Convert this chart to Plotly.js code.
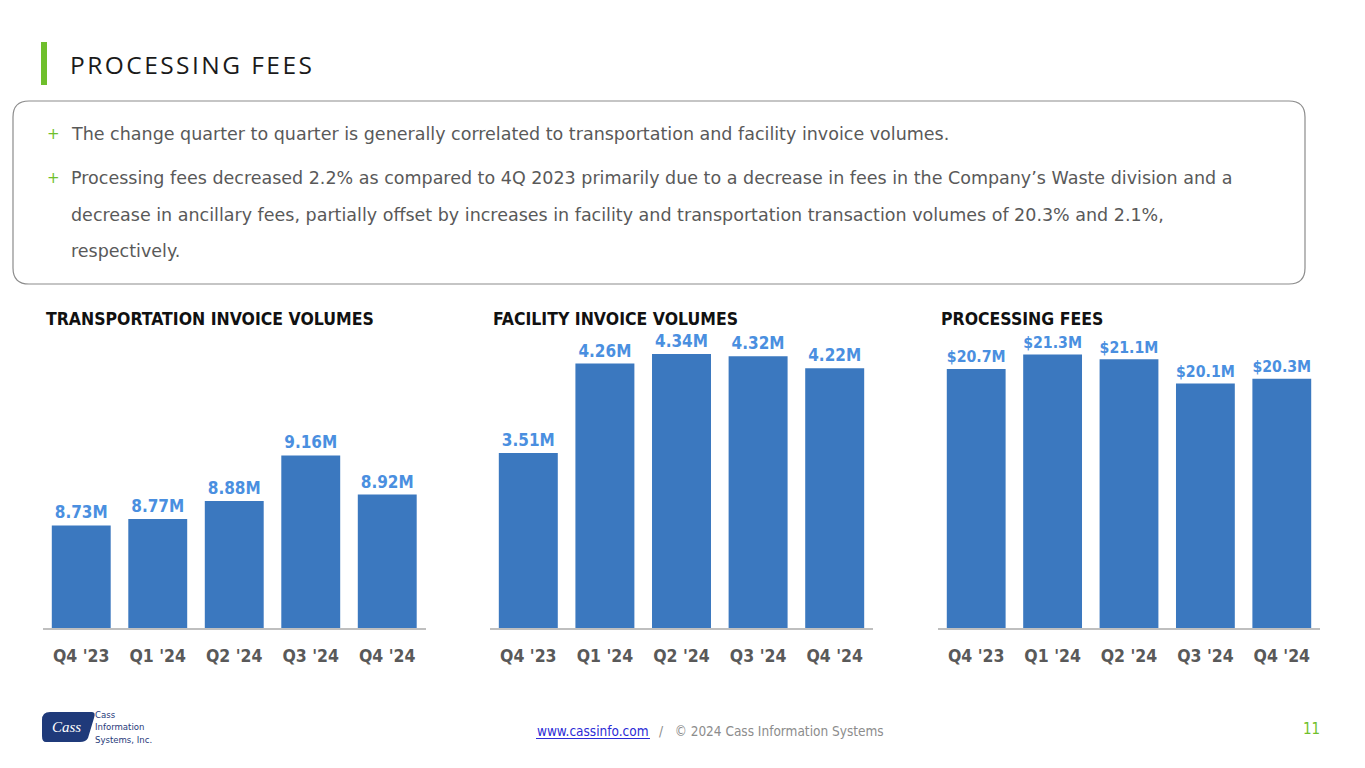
<!DOCTYPE html>
<html>
<head>
<meta charset="utf-8">
<script src="https://cdn.plot.ly/plotly-3.0.1.min.js"></script>
<style>
  html, body { margin: 0; padding: 0; background: #ffffff; }
  #chart { width: 1365px; height: 768px; }
</style>
</head>
<body>
<div id="chart"></div>
<script>
// ---- Data ----
const quarters = ["Q4 '23", "Q1 '24", "Q2 '24", "Q3 '24", "Q4 '24"];
const transportVolumes = [8.73, 8.77, 8.88, 9.16, 8.92];   // millions
const facilityVolumes = [3.51, 4.26, 4.34, 4.32, 4.22];    // millions
const processingFees = [20.7, 21.3, 21.1, 20.1, 20.3];     // $ millions
const chartTitles = ["TRANSPORTATION INVOICE VOLUMES", "FACILITY INVOICE VOLUMES", "PROCESSING FEES"];
const slideTitle = "PROCESSING FEES";
const bullets = [
  ["The change quarter to quarter is generally correlated to transportation and facility invoice volumes."],
  ["Processing fees decreased 2.2% as compared to 4Q 2023 primarily due to a decrease in fees in the Company\u2019s Waste division and a",
   "decrease in ancillary fees, partially offset by increases in facility and transportation transaction volumes of 20.3% and 2.1%,",
   "respectively."]
];

// ---- Helpers (pixel -> paper) ----
const W = 1365, H = 768;
const px = v => v / W;
const py = v => 1 - v / H;

const BAR = '#3b78bf';
const LABEL = '#4a8fe0';
const GRAY = '#595959';
const GREEN = '#6fbf2c';
const BOLD_FONT = '"DejaVu Sans Condensed", "DejaVu Sans", sans-serif';
const BODY_FONT = '"DejaVu Sans", sans-serif';
const NARROW = '"Liberation Sans Narrow", "DejaVu Sans Condensed", sans-serif';

const series = [
  {y: transportVolumes, tmpl: '%{y:.2f}M', range: [8.10, 9.869], dom: [43, 425.5]},
  {y: facilityVolumes, tmpl: '%{y:.2f}M', range: [2.043, 4.457], dom: [490, 873]},
  {y: processingFees, tmpl: '$%{y:.1f}M', range: [10, 21.9], dom: [938, 1320]}
];

const data = series.map((s, i) => ({
  type: 'bar',
  x: quarters,
  y: s.y,
  xaxis: i === 0 ? 'x' : 'x' + (i + 1),
  yaxis: i === 0 ? 'y' : 'y' + (i + 1),
  marker: {color: BAR},
  texttemplate: s.tmpl,
  textposition: 'outside',
  cliponaxis: false,
  textfont: {family: BOLD_FONT, size: 17, color: LABEL, weight: 'bold'},
  hoverinfo: 'skip',
  showlegend: false
}));

const layout = {
  width: W, height: H,
  margin: {l: 0, r: 0, t: 0, b: 0},
  paper_bgcolor: '#ffffff',
  plot_bgcolor: 'rgba(0,0,0,0)',
  bargap: 0.23,
  showlegend: false,
  shapes: [],
  annotations: []
};

series.forEach((s, i) => {
  const xk = i === 0 ? 'xaxis' : 'xaxis' + (i + 1);
  const yk = i === 0 ? 'yaxis' : 'yaxis' + (i + 1);
  const yref = i === 0 ? 'y' : 'y' + (i + 1);
  layout[xk] = {
    domain: [px(s.dom[0]), px(s.dom[1])],
    anchor: yref,
    showline: true, linecolor: '#bfbfbf', linewidth: 1.5,
    showgrid: false, zeroline: false, ticks: '',
    ticklabelstandoff: 11,
    tickfont: {family: BOLD_FONT, size: 17.5, color: GRAY, weight: 'bold'},
    fixedrange: true
  };
  layout[yk] = {
    domain: [py(628), py(340)],
    anchor: i === 0 ? 'x' : 'x' + (i + 1),
    range: s.range,
    visible: false,
    fixedrange: true
  };
  layout.annotations.push({
    xref: 'paper', yref: 'paper',
    x: px(s.dom[0] + 1), y: py(319),
    xanchor: 'left', yanchor: 'middle',
    text: '<b>' + chartTitles[i] + '</b>',
    showarrow: false,
    font: {family: BOLD_FONT, size: 17.5, color: '#111111'}
  });
});

// Slide header
layout.shapes.push({type: 'rect', xref: 'paper', yref: 'paper',
  x0: px(41), x1: px(47), y0: py(85), y1: py(42),
  fillcolor: GREEN, line: {width: 0}});
layout.annotations.push({xref: 'paper', yref: 'paper', x: px(68), y: py(64),
  xanchor: 'left', yanchor: 'middle', showarrow: false,
  text: slideTitle.split('').join('\u200A'),
  font: {family: '"Open Sans", "Liberation Sans", sans-serif', size: 24.5, color: '#1a1a1a'}});

// Rounded text box
(function () {
  const x0 = px(13), x1 = px(1305), yT = py(101), yB = py(284);
  const rx = px(16), ry = 16 / H;
  const path = `M ${x0 + rx} ${yT} L ${x1 - rx} ${yT} Q ${x1} ${yT} ${x1} ${yT - ry} ` +
    `L ${x1} ${yB + ry} Q ${x1} ${yB} ${x1 - rx} ${yB} L ${x0 + rx} ${yB} ` +
    `Q ${x0} ${yB} ${x0} ${yB + ry} L ${x0} ${yT - ry} Q ${x0} ${yT} ${x0 + rx} ${yT} Z`;
  layout.shapes.push({type: 'path', xref: 'paper', yref: 'paper', path: path,
    fillcolor: 'rgba(0,0,0,0)', line: {color: '#8c8c8c', width: 1.2}});
})();

// Bullet text
const lineY = [[134], [178, 215, 251]];
bullets.forEach((lines, bi) => {
  layout.annotations.push({xref: 'paper', yref: 'paper', x: px(45), y: py(lineY[bi][0]),
    xanchor: 'left', yanchor: 'middle', showarrow: false, text: '+',
    font: {family: BODY_FONT, size: 15, color: GREEN}});
  lines.forEach((ln, li) => {
    layout.annotations.push({xref: 'paper', yref: 'paper', x: px(69), y: py(lineY[bi][li]),
      xanchor: 'left', yanchor: 'middle', showarrow: false, text: ln,
      font: {family: BODY_FONT, size: 17.5, color: GRAY}});
  });
});

// Footer
layout.shapes.push({type: 'path', xref: 'paper', yref: 'paper',
  path: `M ${px(50)} ${py(712)} L ${px(92)} ${py(712)} Q ${px(96)} ${py(712)} ${px(94)} ${py(718)} ` +
        `L ${px(88)} ${py(738)} Q ${px(86)} ${py(742)} ${px(80)} ${py(742)} L ${px(46)} ${py(742)} ` +
        `Q ${px(42)} ${py(742)} ${px(42)} ${py(736)} L ${px(42)} ${py(720)} Q ${px(42)} ${py(712)} ${px(50)} ${py(712)} Z`,
  fillcolor: '#1f3a7a', line: {width: 0}});
layout.annotations.push({xref: 'paper', yref: 'paper', x: px(66), y: py(727),
  xanchor: 'center', yanchor: 'middle', showarrow: false, text: '<i>Cass</i>',
  font: {family: '"Liberation Serif", serif', size: 15, color: '#ffffff'}});
layout.annotations.push({xref: 'paper', yref: 'paper', x: px(94), y: py(727),
  xanchor: 'left', yanchor: 'middle', align: 'left', showarrow: false, borderpad: 0,
  text: 'Cass<br>Information<br>Systems, Inc.',
  font: {family: NARROW, size: 9.5, color: '#1f3a7a'}});
layout.annotations.push({xref: 'paper', yref: 'paper', x: px(535), y: py(731),
  xanchor: 'left', yanchor: 'middle', showarrow: false, text: 'www.cassinfo.com',
  font: {family: NARROW, size: 13.5, color: '#2b2bd6'}});
layout.shapes.push({type: 'line', xref: 'paper', yref: 'paper',
  x0: px(536), x1: px(650), y0: py(738.5), y1: py(738.5), line: {color: '#2b2bd6', width: 1}});
layout.annotations.push({xref: 'paper', yref: 'paper', x: px(657), y: py(731),
  xanchor: 'left', yanchor: 'middle', showarrow: false, text: '/&nbsp;&nbsp; \u00A9 2024 Cass Information Systems',
  font: {family: NARROW, size: 13.5, color: '#8c8c8c'}});
layout.annotations.push({xref: 'paper', yref: 'paper', x: px(1322), y: py(729),
  xanchor: 'right', yanchor: 'middle', showarrow: false, text: '11',
  font: {family: NARROW, size: 15, color: GREEN}});

Plotly.newPlot('chart', data, layout, {staticPlot: true, displayModeBar: false});
</script>
</body>
</html>
